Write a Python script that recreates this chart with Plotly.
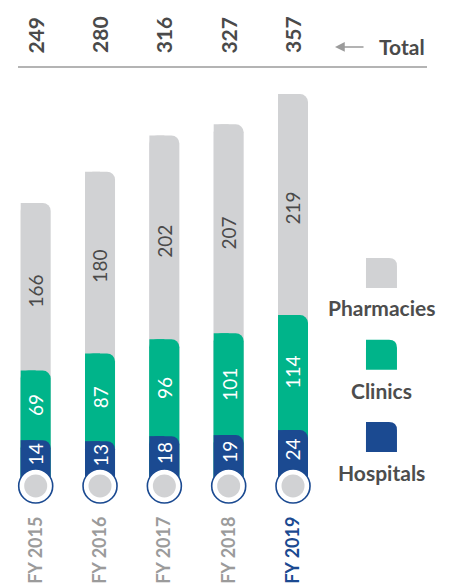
import plotly.graph_objects as go

years = ['FY 2015', 'FY 2016', 'FY 2017', 'FY 2018', 'FY 2019']
hospitals = [14, 13, 18, 19, 24]
clinics = [69, 87, 96, 101, 114]
pharmacies = [166, 180, 202, 207, 219]
totals = [249, 280, 316, 327, 357]
legend_names = ['Pharmacies', 'Clinics', 'Hospitals']

gray = '#d1d2d4'
green = '#00b48a'
blue = '#1b4a91'
dark = '#4a4a4a'
font = 'Lato'

x = list(range(len(years)))
bar_w = 0.466
base = -31.4      # bars start at the centre of the circle
circle_top = -14.6

fig = go.Figure()

# cumulative overlaid layers so the rounded corner shows the colour above
layers = [
    ([h + c + p for h, c, p in zip(hospitals, clinics, pharmacies)], gray),
    ([h + c for h, c in zip(hospitals, clinics)], green),
    (hospitals, blue),
]
for tops, col in layers:
    heights = [t - base for t in tops]
    # left half keeps the top-left corner square
    fig.add_trace(go.Bar(x=x, y=heights, base=base, width=bar_w / 2, offset=-bar_w / 2,
                         marker=dict(color=col, line=dict(width=0)), hoverinfo='skip'))
    fig.add_trace(go.Bar(x=x, y=heights, base=base, width=bar_w, offset=-bar_w / 2,
                         marker=dict(color=col, line=dict(width=0), cornerradius=8),
                         hoverinfo='skip'))

# circles at the foot of every bar
fig.add_trace(go.Scatter(x=x, y=[base] * len(x), mode='markers',
                         marker=dict(size=34, color='white', line=dict(color=blue, width=1.6)),
                         hoverinfo='skip'))
fig.add_trace(go.Scatter(x=x, y=[base] * len(x), mode='markers',
                         marker=dict(size=23, color=gray, line=dict(width=0)),
                         hoverinfo='skip'))

ann = []
for i in x:
    h, c, p = hospitals[i], clinics[i], pharmacies[i]
    ann.append(dict(x=i, y=(h + circle_top) / 2, text=str(h), textangle=-90,
                    font=dict(size=19, color='white', family=font)))
    ann.append(dict(x=i, y=h + c / 2, text=str(c), textangle=-90,
                    font=dict(size=19, color='white', family=font)))
    ann.append(dict(x=i, y=h + c + p / 2 - 4, text=str(p), textangle=-90,
                    font=dict(size=19, color=dark, family=font)))
    ann.append(dict(x=i, y=415.6, text='<b>%d</b>' % totals[i], textangle=-90,
                    font=dict(size=21, color=dark, family=font)))
for a in ann:
    a['showarrow'] = False

# total label and arrow
ann.append(dict(x=5.694, y=403.7, text='<b>Total</b>', showarrow=False,
                font=dict(size=21, color=dark, family=font)))
ann.append(dict(x=4.653, y=403.7, text='', showarrow=True, ax=30, ay=0,
                arrowhead=2, arrowsize=1.3, arrowwidth=1.5, arrowcolor='#9b9b9b'))

# legend
leg_x = 5.375
swatch_y = [179.7, 98.6, 17.1]
label_y = [145.5, 63.7, -18.5]
shapes = [dict(type='line', xref='x', yref='y', x0=-0.275, x1=6.083, y0=383.8, y1=383.8,
               line=dict(color='#9b9b9b', width=1.5))]
for name, col, sy, ly in zip(legend_names, [gray, green, blue], swatch_y, label_y):
    shapes.append(dict(type='path', xref='x', yref='y', xsizemode='pixel', ysizemode='pixel',
                       xanchor=leg_x, yanchor=sy,
                       path='M -15.5,-15 L 15.5,-15 L 15.5,7 Q 15.5,15 7.5,15 L -15.5,15 Z',
                       fillcolor=col, line=dict(width=0)))
    ann.append(dict(x=leg_x, y=ly, text='<b>%s</b>' % name, showarrow=False,
                    font=dict(size=21, color='#4d4d4d', family=font)))

ticktext = list(years)
ticktext[-1] = '<span style="color:%s">%s</span>' % (blue, years[-1])

fig.update_layout(
    width=453, height=585,
    margin=dict(l=0, r=0, t=0, b=75),
    paper_bgcolor='white', plot_bgcolor='white',
    barmode='overlay', showlegend=False,
    font=dict(family=font),
    xaxis=dict(range=[-0.555, 6.487], tickvals=x, ticktext=ticktext, tickangle=-90,
               tickfont=dict(size=18, color='#9b9b9b', family=font, weight='bold'),
               automargin=False, showgrid=False, zeroline=False, showline=False,
               ticks='', ticklabelstandoff=2),
    yaxis=dict(range=[-55.2, 450.2], visible=False, showgrid=False, zeroline=False,
               automargin=False),
    annotations=ann, shapes=shapes,
)

# page has a default 8px body margin; drop it so the figure sits at the corner
fig.write_html("out.html", config={'displayModeBar': False},
               post_script="document.body.style.margin='0px';")
